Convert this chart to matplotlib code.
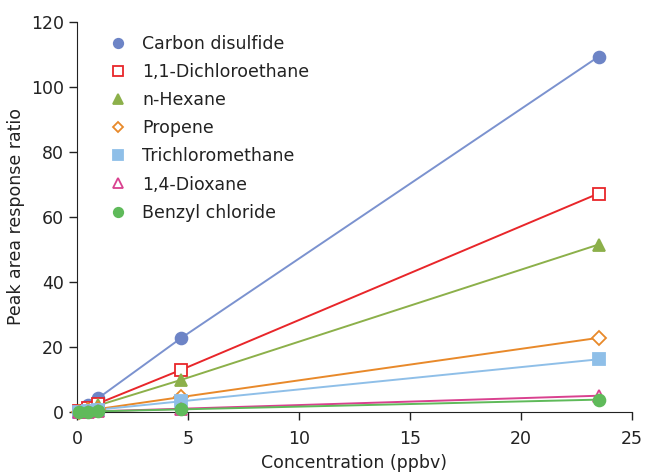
import matplotlib
matplotlib.use("Agg")
import matplotlib.pyplot as plt

# concentrations (ppbv)
conc = [0.094, 0.47, 0.94, 4.7, 23.5]

carbon_disulfide = [0.4, 2.2, 4.2, 22.8, 109.3]
dichloroethane = [0.3, 1.3, 2.6, 13.0, 67.2]
n_hexane = [0.2, 1.0, 2.0, 9.9, 51.5]
propene = [0.1, 0.5, 0.9, 4.6, 22.8]
trichloromethane = [0.1, 0.3, 0.7, 3.3, 16.2]
dioxane = [0.0, 0.1, 0.2, 1.0, 5.0]
benzyl_chloride = [0.0, 0.1, 0.2, 0.8, 3.8]

series = [
    ("Carbon disulfide", carbon_disulfide, "#6d84c6", "#7b92cf", "o", True),
    ("1,1-Dichloroethane", dichloroethane, "#e8262a", "#e8262a", "s", False),
    ("n-Hexane", n_hexane, "#8cb04a", "#8cb04a", "^", True),
    ("Propene", propene, "#e8892a", "#e8892a", "D", False),
    ("Trichloromethane", trichloromethane, "#8fbfe8", "#8fbfe8", "s", True),
    ("1,4-Dioxane", dioxane, "#d9418f", "#d9418f", "^", False),
    ("Benzyl chloride", benzyl_chloride, "#5fba5a", "#5fba5a", "o", True),
]

plt.rcParams['font.family'] = ['DejaVu Sans']
fig = plt.figure(figsize=(6.48, 4.76), dpi=100)
ax = fig.add_axes([0.119, 0.1345, 0.856, 0.8195])

for name, vals, mcol, lcol, mk, filled in series:
    ax.plot(conc, vals, color=lcol, lw=1.4, zorder=2, clip_on=False)
    size = 8.5 if mk != "D" else 7
    ax.plot(conc, vals, linestyle="none", marker=mk, markersize=size,
            markerfacecolor=mcol if filled else "white",
            markeredgecolor=mcol, markeredgewidth=1.3,
            label=name, zorder=3, clip_on=False)

ax.set_xlim(0, 25)
ax.set_ylim(0, 120)
ax.set_xticks([0, 5, 10, 15, 20, 25])
ax.set_yticks([0, 20, 40, 60, 80, 100, 120])
ax.tick_params(labelsize=12.5, colors="#222222", length=6, width=1, direction="out")
ax.tick_params(axis="x", pad=7)
for s in ["top", "right"]:
    ax.spines[s].set_visible(False)
for s in ["left", "bottom"]:
    ax.spines[s].set_color("#222222")
ax.set_xlabel("Concentration (ppbv)", fontsize=12.5, color="#222222", labelpad=4)
ax.set_ylabel("Peak area response ratio", fontsize=12.5, color="#222222", labelpad=4)

ax.legend(loc="upper left", bbox_to_anchor=(0.03, 1.006), frameon=False,
          fontsize=12.5, handlelength=1.0, handletextpad=0.9,
          labelspacing=0.58, markerscale=0.8, labelcolor="#222222")

fig.savefig("out.png", dpi=100)
